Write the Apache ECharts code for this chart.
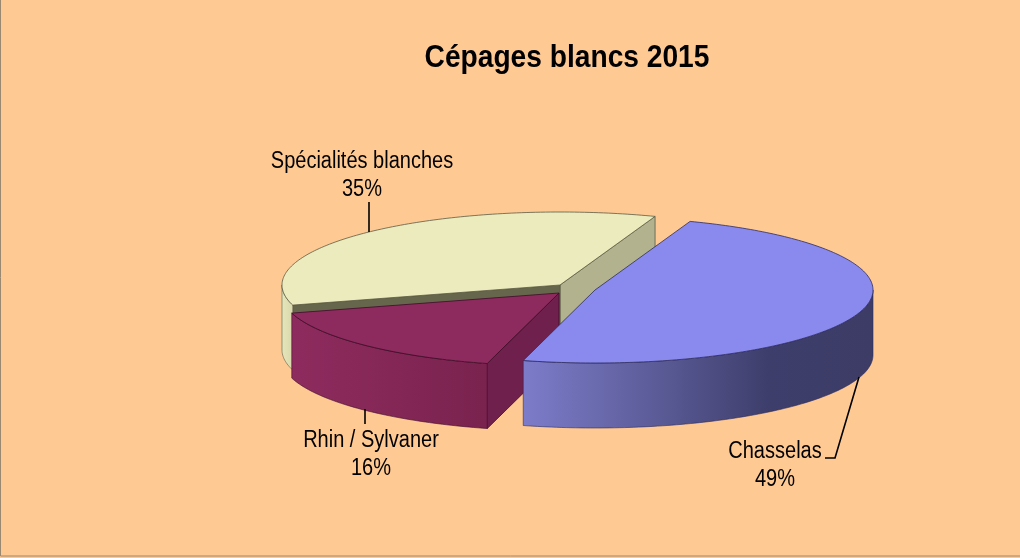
<!DOCTYPE html>
<html><head><meta charset="utf-8">
<style>html,body{margin:0;padding:0;background:#fff}#c{width:1020px;height:558px}</style>
<script src="https://cdn.jsdelivr.net/npm/echarts@6/dist/echarts.min.js"></script>
</head><body><div id="c"></div>
<script>
const categories = ['Spécialités blanches', 'Rhin / Sylvaner', 'Chasselas'];
const shares = [35, 16.4, 48.6];
const chartTitle = 'Cépages blancs 2015';

const FONT = '"Liberation Sans", Arial, sans-serif';
const START_DEG = 70, RX = 278, RY = 73, DEPTH = 65;
const looks = [
  { cx: 560, cy: 285, top: '#ebebbd', edge: '#5c5c44',
    walls: ['#b2b28e', '#66664c'],
    rim: [[0, '#e6e6bb'], [1, '#d8d8ac']],
    label: { x: 362, y: 175.5, scale: .87 }, leader: [[369, 202], [369, 232]] },
  { cx: 559, cy: 293, top: '#8e2b5e', edge: '#3d0c28',
    walls: [null, '#70204c'],
    rim: [[0, '#8e2b5e'], [1, '#7a234f']],
    label: { x: 371, y: 454.5, scale: .87 }, leader: [[365, 409], [365, 424]] },
  { cx: 595, cy: 290, top: '#8a8aee', edge: '#2c2c60',
    walls: [null, null],
    rim: [[0, '#7c7cca'], [.35, '#5e5e9c'], [.7, '#3e3e6c'], [1, '#3c3c66']],
    label: { x: 775, y: 465.5, scale: .87 }, leader: [[859, 377], [835, 458], [825, 458]] }
];

const rad = d => d * Math.PI / 180;
function arcPts(l, a0, a1, dy) {
  const pts = [], n = Math.max(2, Math.ceil(Math.abs(a1 - a0)));
  for (let i = 0; i <= n; i++) {
    const a = rad(a0 + (a1 - a0) * i / n);
    pts.push([l.cx + RX * Math.cos(a), l.cy - RY * Math.sin(a) + dy]);
  }
  return pts;
}
function poly(points, fill, stroke, w) {
  return { type: 'polygon', shape: { points }, silent: true,
           style: { fill, stroke: stroke || null, lineWidth: w == null ? 1 : w, lineJoin: 'round' } };
}
function wall(l, a, fill) {
  const r = arcPts(l, a, a, 0)[0];
  return poly([[l.cx, l.cy], r, [r[0], r[1] + DEPTH], [l.cx, l.cy + DEPTH]], fill, l.edge, .8);
}
function renderSlice(params, api) {
  const i = params.dataIndex, l = looks[i];
  const total = shares.reduce((s, v) => s + v, 0);
  const before = shares.slice(0, i).reduce((s, v) => s + v, 0);
  const a0 = START_DEG + before / total * 360;
  const a1 = a0 + api.value(0) / total * 360;
  const kids = [];
  // cut faces that look towards the viewer
  if (l.walls[0]) kids.push(wall(l, a0, l.walls[0]));
  if (l.walls[1]) kids.push(wall(l, a1, l.walls[1]));
  // outer rim: only the front half (180..360 deg) is visible
  const r0 = Math.max(a0, 180), r1 = Math.min(a1, 360);
  if (r1 > r0) {
    const top = arcPts(l, r0, r1, 0), bot = arcPts(l, r0, r1, DEPTH).reverse();
    const xs = top.map(p => p[0]);
    kids.push(poly(top.concat(bot), {
      type: 'linear', global: true,
      x: Math.min.apply(null, xs), y: 0, x2: Math.max.apply(null, xs), y2: 0,
      colorStops: l.rim.map(s => ({ offset: s[0], color: s[1] }))
    }, l.edge, .6));
  }
  // top face
  kids.push(poly([[l.cx, l.cy]].concat(arcPts(l, a0, a1, 0)), l.top, l.edge, .8));
  // leader
  kids.push({ type: 'polyline', shape: { points: l.leader }, silent: true,
              style: { fill: null, stroke: '#000', lineWidth: 1.6 } });
  // label
  kids.push({ type: 'text', x: l.label.x, y: l.label.y, scaleX: l.label.scale, silent: true,
    style: { text: categories[i] + '\n' + Math.round(api.value(0)) + '%', fill: '#000',
             font: '23px ' + FONT, align: 'center', verticalAlign: 'middle', lineHeight: 28 } });
  return { type: 'group', children: kids };
}

const chart = echarts.init(document.getElementById('c'), null, { renderer: 'canvas' });
chart.setOption({
  animation: false,
  backgroundColor: '#ffc994',
  graphic: [
    { type: 'rect', z: 0, silent: true, shape: { x: .5, y: -2, width: 1024, height: 558 },
      style: { fill: null, stroke: '#9a8870', lineWidth: 1 } },
    { type: 'text', z: 5, x: 567, y: 58, scaleX: .88, silent: true,
      style: { text: chartTitle, fill: '#000', font: 'bold 32px ' + FONT, align: 'center', verticalAlign: 'middle' } }
  ],
  series: [{
    type: 'custom', coordinateSystem: 'none', renderItem: renderSlice,
    encode: { value: 0 }, data: shares.map((v, i) => ({ name: categories[i], value: [v] }))
  }]
});
</script></body></html>
